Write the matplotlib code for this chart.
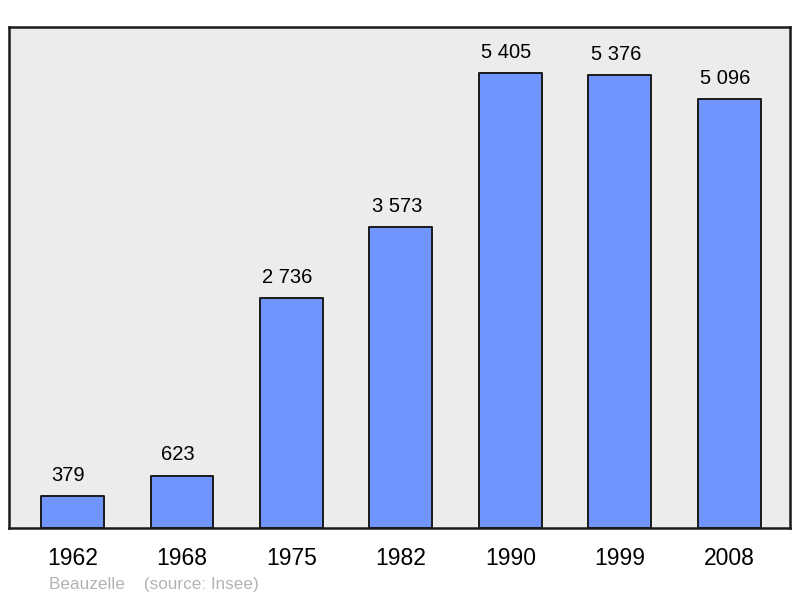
import matplotlib.pyplot as plt

years = ['1962', '1968', '1975', '1982', '1990', '1999', '2008']
population = [379, 623, 2736, 3573, 5405, 5376, 5096]
labels = ['379', '623', '2 736', '3 573', '5 405', '5 376', '5 096']

plt.rcParams['font.family'] = ['Liberation Sans', 'DejaVu Sans']

fig = plt.figure(figsize=(8, 5.98), dpi=100)
ax = fig.add_axes([9 / 800, 1 - 528 / 598, 781 / 800, 501 / 598])
ax.set_facecolor('#ececec')

x = range(len(years))
bars = ax.bar(x, population, width=0.575, color='#7095ff',
              edgecolor='#1a1a1a', linewidth=1.4, joinstyle='round')

for rect, lab in zip(bars, labels):
    ax.annotate(lab, (rect.get_x() + rect.get_width() / 2, rect.get_height()),
                xytext=(-3, 8), textcoords='offset points',
                ha='center', va='bottom', fontsize=14.5)

ax.set_xlim(-0.58, 6.553)
ax.set_ylim(0, 5951)
ax.set_xticks(list(x))
ax.set_xticklabels(years, fontsize=16.5)
ax.tick_params(axis='x', length=0, pad=14)
ax.set_yticks([])
for sp in ax.spines.values():
    sp.set_linewidth(1.8)
    sp.set_color('#1a1a1a')

fig.text(49 / 800, 1 - 585 / 598, 'Beauzelle    (source: Insee)',
         color='#b3b3b3', fontsize=12.3, va='center')

fig.savefig('out.png', dpi=100)
